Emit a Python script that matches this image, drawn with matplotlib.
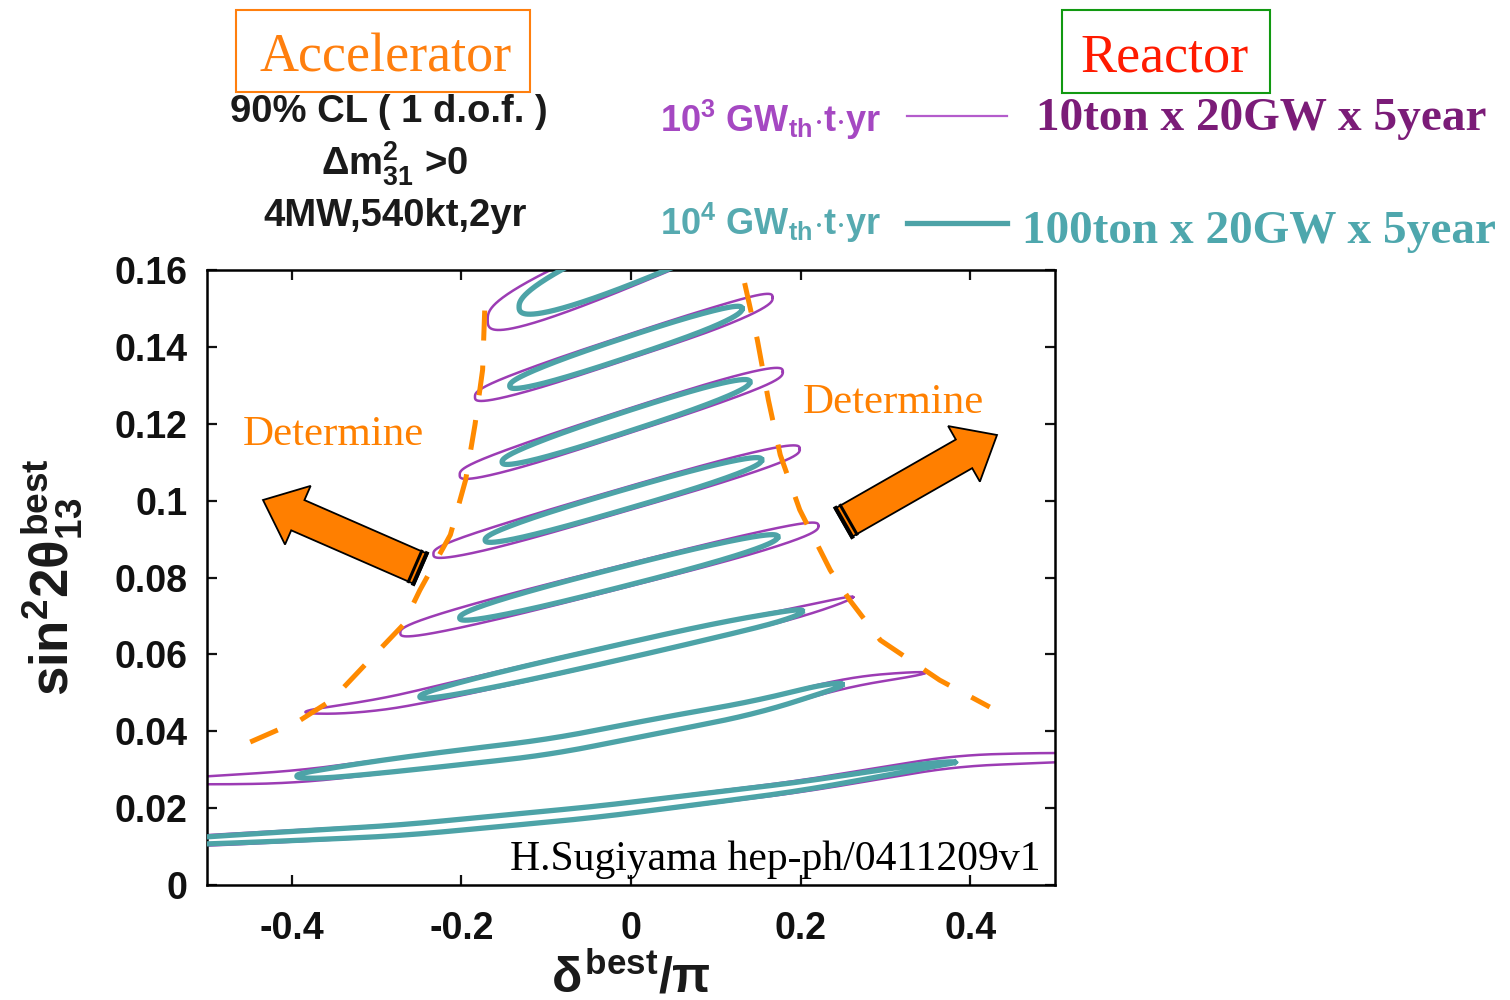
import numpy as np
import matplotlib
matplotlib.use("Agg")
import matplotlib.pyplot as plt
from matplotlib.patches import Polygon, Rectangle
from matplotlib.lines import Line2D

# ---------------- data ----------------
x_ticks = [-0.4, -0.2, 0.0, 0.2, 0.4]
x_tick_labels = ["-0.4", "-0.2", "0", "0.2", "0.4"]
y_ticks = [0, 0.02, 0.04, 0.06, 0.08, 0.10, 0.12, 0.14, 0.16]
y_tick_labels = ["0", "0.02", "0.04", "0.06", "0.08", "0.1", "0.12", "0.14", "0.16"]

# centre-line knots of each allowed region (delta/pi, sin^2 2theta13), top to bottom
knot_delta = [
    [-0.169, -0.132, 0.081, 0.300],
    [-0.184, -0.143, -0.006, 0.131, 0.167],
    [-0.202, -0.152, -0.006, 0.140, 0.179],
    [-0.233, -0.172, -0.009, 0.154, 0.199],
    [-0.272, -0.202, -0.014, 0.173, 0.221],
    [-0.384, -0.311, -0.249, -0.021, 0.097, 0.202, 0.262],
    [-0.600, -0.500, -0.394, -0.249, -0.096, 0.034, 0.152, 0.249, 0.294, 0.347],
    [-0.700, -0.500, -0.272, -0.037, 0.199, 0.382, 0.500, 0.600],
]
knot_sin2 = [
    [0.1470, 0.1504, 0.1701, 0.1904],
    [0.1270, 0.1298, 0.1398, 0.1498, 0.1528],
    [0.1067, 0.1100, 0.1205, 0.1309, 0.1335],
    [0.0861, 0.0897, 0.1002, 0.1106, 0.1134],
    [0.0656, 0.0695, 0.0800, 0.0905, 0.0934],
    [0.0450, 0.0462, 0.0489, 0.0602, 0.0661, 0.0710, 0.0749],
    [0.0268, 0.0272, 0.0281, 0.0320, 0.0359, 0.0415, 0.0464, 0.0526, 0.0539, 0.0552],
    [0.0095, 0.0116, 0.0142, 0.0191, 0.0256, 0.0323, 0.0332, 0.0334],
]
# delta extent of the 10^4 (teal) and 10^3 (purple) contours
teal_range = [(-0.132, 0.26), (-0.143, 0.131), (-0.152, 0.140), (-0.172, 0.154),
              (-0.202, 0.173), (-0.249, 0.202), (-0.394, 0.249), (-0.614, 0.382)]
purple_range = [(-0.169, 0.29), (-0.184, 0.167), (-0.202, 0.179), (-0.233, 0.199),
                (-0.272, 0.221), (-0.384, 0.262), (-0.567, 0.347), (-0.630, 0.565)]
# half height (in sin^2 2theta13) and end roundness of each contour
teal_half = [0.0065, 0.0027, 0.0027, 0.0026, 0.0026, 0.0020, 0.0020, 0.00145]
purple_half = [0.0070, 0.0032, 0.0032, 0.0031, 0.0030, 0.0022, 0.0020, 0.00155]
teal_shape = [2.5, 2.5, 2.5, 2.5, 2.5, 2.5, 2.5, 2]
purple_shape = [3, 3, 3, 3, 3, 2, 2, 4]

# orange dashed guide curves
left_guide_x = [-0.449, -0.390, -0.353, -0.314, -0.269, -0.249, -0.213, -0.195, -0.184, -0.175, -0.172]
left_guide_y = [0.0372, 0.0429, 0.0481, 0.0572, 0.0676, 0.0767, 0.0911, 0.1054, 0.1197, 0.1340, 0.1527]
right_guide_x = [0.134, 0.149, 0.162, 0.176, 0.199, 0.235, 0.258, 0.294, 0.364, 0.423]
right_guide_y = [0.1566, 0.1418, 0.1262, 0.1119, 0.0976, 0.0819, 0.0741, 0.0637, 0.0533, 0.0463]

# ---------------- style ----------------
TEAL = "#4da3a7"
PURPLE = "#9c3cb4"
ORANGE = "#ff8a00"
ORANGE_T = "#ff7f0e"
SANS = "Liberation Sans"
SERIF = "Liberation Serif"

plt.rcParams["mathtext.fontset"] = "custom"
plt.rcParams["mathtext.rm"] = "Liberation Sans:bold"
plt.rcParams["mathtext.it"] = "Liberation Sans:bold"
plt.rcParams["mathtext.bf"] = "Liberation Sans:bold"

W, H = 1510, 1000
fig = plt.figure(figsize=(W / 100, H / 100), dpi=100)


def fx(px):
    return px / W


def fy(py):
    return 1 - py / H


ax = fig.add_axes([fx(207), fy(885), fx(1055) - fx(207), fy(270) - fy(885)])
ax.set_xlim(-0.5, 0.5)
ax.set_ylim(0, 0.16)
ax.set_xticks(x_ticks, x_tick_labels)
ax.set_yticks(y_ticks, y_tick_labels)
ax.tick_params(direction="in", length=7, width=1.6, top=True, right=True,
               labelsize=27, colors="#111111")
ax.tick_params(axis="y", pad=14)
ax.tick_params(axis="x", pad=19)
for lab in ax.get_xticklabels() + ax.get_yticklabels():
    lab.set_fontweight("bold")
    lab.set_family(SANS)
for sp in ax.spines.values():
    sp.set_linewidth(1.8)


def centreline(kx, ky):
    kx = np.asarray(kx, float)
    ky = np.asarray(ky, float)
    grid = np.linspace(kx.min(), kx.max(), 800)
    g = np.interp(grid, kx, ky)
    dx = grid[1] - grid[0]
    k = max(3, int(0.10 / dx) // 2 * 2 + 1)
    padded = np.pad(g, k // 2, mode="reflect", reflect_type="odd")
    sm = np.convolve(padded, np.ones(k) / k, mode="valid")
    return grid, sm


def loop(grid, cl, rng, half, p):
    t = np.linspace(0, 2 * np.pi, 700)
    c, s = np.cos(t), np.sin(t)
    u = np.sign(c) * np.abs(c) ** (2.0 / p)
    v = np.sign(s) * np.abs(s) ** (2.0 / p)
    xm = 0.5 * (rng[0] + rng[1])
    a = 0.5 * (rng[1] - rng[0])
    x = xm + a * u
    y = np.interp(x, grid, cl) + half * v
    return x, y


for i in range(len(knot_delta)):
    grid, cl = centreline(knot_delta[i], knot_sin2[i])
    px_, py_ = loop(grid, cl, purple_range[i], purple_half[i], purple_shape[i])
    ax.plot(px_, py_, color=PURPLE, lw=1.8, zorder=2, solid_joinstyle="round")
    tx_, ty_ = loop(grid, cl, teal_range[i], teal_half[i], teal_shape[i])
    ax.plot(tx_, ty_, color=TEAL, lw=3.8, zorder=3, solid_joinstyle="round")

for gx, gy in [(left_guide_x, left_guide_y), (right_guide_x, right_guide_y)]:
    ax.plot(gx, gy, color=ORANGE, lw=3.6, dashes=(6, 5), dash_capstyle="butt", zorder=6)


# ---------------- block arrows (figure pixels) ----------------
def block_arrow(tail, tip, shaft=16.5, head=32.0, head_len=38.0):
    T = np.array(tail, float)
    P = np.array(tip, float)
    d = P - T
    d /= np.hypot(d[0], d[1])
    n = np.array([-d[1], d[0]])
    base = P - head_len * d
    pts = [T + shaft * n, base + shaft * n, base + head * n, P,
           base - head * n, base - shaft * n, T - shaft * n]
    fig.add_artist(Polygon([(fx(q[0]), fy(q[1])) for q in pts], closed=True,
                           transform=fig.transFigure, facecolor="#ff7f00",
                           edgecolor="black", lw=1.3, zorder=10))
    for off, lw in [(1.0, 3.0), (6.5, 2.2)]:
        a = T + off * d + shaft * n
        b = T + off * d - shaft * n
        fig.add_artist(Line2D([fx(a[0]), fx(b[0])], [fy(a[1]), fy(b[1])],
                              transform=fig.transFigure, color="black", lw=lw, zorder=11))


block_arrow((421, 569), (263, 500))
block_arrow((843, 523), (997, 435))

# ---------------- texts ----------------
fig.text(fx(386), fy(72), "Accelerator", ha="center", va="baseline", fontsize=39,
         family=SERIF, color=ORANGE_T)
fig.add_artist(Rectangle((fx(236), fy(92)), fx(530) - fx(236), fy(10) - fy(92),
                         transform=fig.transFigure, fill=False, edgecolor=ORANGE_T, lw=1.5))
fig.text(fx(1165), fy(72), "Reactor", ha="center", va="baseline", fontsize=39,
         family=SERIF, color="#ff1a00")
fig.add_artist(Rectangle((fx(1062), fy(93)), fx(1270) - fx(1062), fy(10) - fy(93),
                         transform=fig.transFigure, fill=False, edgecolor="#119911", lw=1.5))

DARK = "#1a1a1a"
fig.text(fx(389), fy(122), "90% CL ( 1 d.o.f. )", ha="center", va="baseline", fontsize=27.5,
         family=SANS, fontweight="bold", color=DARK)
fig.text(fx(395), fy(175), r"$\Delta$m$^2_{31}$ >0", ha="center", va="baseline", fontsize=27.5,
         family=SANS, fontweight="bold", color=DARK)
fig.text(fx(395), fy(226), "4MW,540kt,2yr", ha="center", va="baseline", fontsize=27.5,
         family=SANS, fontweight="bold", color=DARK)

fig.text(fx(660), fy(132), r"10$^3$ GW$_{th}$$\cdot$t$\cdot$yr", ha="left", va="baseline",
         fontsize=26, family=SANS, fontweight="bold", color="#a548c2")
fig.text(fx(660), fy(235), r"10$^4$ GW$_{th}$$\cdot$t$\cdot$yr", ha="left", va="baseline",
         fontsize=26, family=SANS, fontweight="bold", color="#56aab0")
fig.add_artist(Line2D([fx(907), fx(1007)], [fy(116), fy(116)], transform=fig.transFigure,
                      color="#b45ccc", lw=1.6))
fig.add_artist(Line2D([fx(907), fx(1007)], [fy(223), fy(223)], transform=fig.transFigure,
                      color=TEAL, lw=3.8))
fig.text(fx(1036), fy(130), "10ton x 20GW x 5year", ha="left", va="baseline", fontsize=34,
         family=SERIF, fontweight="bold", color="#7b1c78")
fig.text(fx(1022), fy(243), "100ton x 20GW x 5year", ha="left", va="baseline", fontsize=34,
         family=SERIF, fontweight="bold", color="#4ea7ad")

fig.text(fx(243), fy(445), "Determine", ha="left", va="baseline", fontsize=31,
         family=SERIF, color="#ff8000", zorder=12)
fig.text(fx(803), fy(413), "Determine", ha="left", va="baseline", fontsize=31,
         family=SERIF, color="#ff8000", zorder=12)
fig.text(fx(1041), fy(870), "H.Sugiyama hep-ph/0411209v1", ha="right", va="baseline",
         fontsize=30, family=SERIF, color="black", zorder=12)

fig.text(fx(52), fy(577), r"sin$^2$2$\theta^{best}_{13}$", rotation=90, ha="center",
         va="center", fontsize=38, family=SANS, fontweight="bold", color=DARK)
fig.text(fx(631), fy(993), r"$\delta^{best}/\pi$", ha="center", va="baseline",
         fontsize=36, family=SANS, fontweight="bold", color=DARK)

fig.savefig("out.png", dpi=100)
